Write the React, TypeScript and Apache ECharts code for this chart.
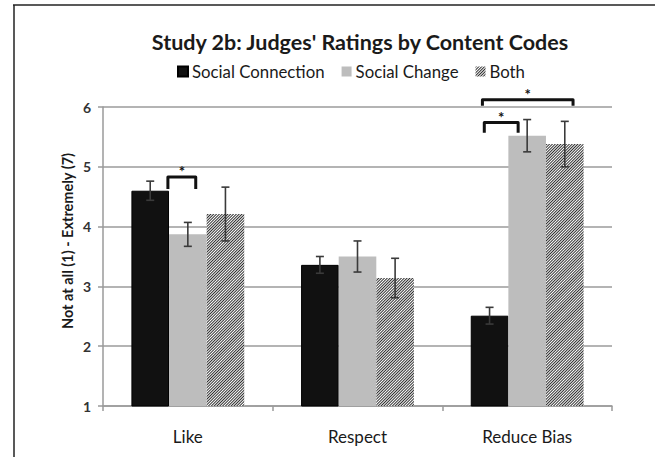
import React, { useEffect, useRef } from "react";
import * as echarts from "echarts";

const categories = ["Like", "Respect", "Reduce Bias"];
const seriesNames = ["Social Connection", "Social Change", "Both"];
const socialConnection = [4.6, 3.36, 2.51];
const socialChange = [3.87, 3.5, 5.52];
const both = [4.21, 3.14, 5.38];
const errConnection = [0.16, 0.14, 0.14];
const errChange = [0.2, 0.26, 0.27];
const errBoth = [0.45, 0.33, 0.38];
const yTicks = [1, 2, 3, 4, 5, 6];
const yAxisTitle = "Not at all (1) - Extremely (7)";

// significance brackets: category, start/end offsets (in bar widths from category centre), top, leg end, star
const bracketCategory = [0, 2, 2];
const bracketFrom = [-0.53, -1.14, -1.19];
const bracketTo = [0.21, -0.24, 1.22];
const bracketTop = [4.83, 5.74, 6.12];
const bracketLeg = [4.63, 5.57, 6.02];
const bracketLabel = ["*", "*", "*"];

const CAT_GAP = 0.335;

export default function App() {
  const ref = useRef<HTMLDivElement>(null);
  useEffect(() => {
    if (!ref.current) return;
    const chart = echarts.init(ref.current, undefined, { renderer: "svg" });
    const values = [socialConnection, socialChange, both];
    const errs = [errConnection, errChange, errBoth];
    const errData: number[][] = [];
    values.forEach((arr, s) =>
      arr.forEach((v, ci) => errData.push([ci, s, v, errs[s][ci]]))
    );
    const bracketData = bracketCategory.map((c, i) => [
      c,
      bracketFrom[i],
      bracketTo[i],
      bracketTop[i],
      bracketLeg[i],
    ]);
    const font = "Lato, 'Open Sans', sans-serif";
    const colors = ["#111111", "#bdbdbd", "#ffffff"];

    chart.setOption({
      animation: false,
      textStyle: { fontFamily: font },
      title: {
        text: "Study 2b: Judges' Ratings by Content Codes",
        left: 355,
        textAlign: "center",
        top: 26,
        textStyle: { fontSize: 21.5, fontWeight: "bold", color: "#1a1a1a", fontFamily: font },
      },
      legend: {
        data: seriesNames,
        top: 58,
        left: 172,
        itemWidth: 10,
        itemHeight: 10,
        itemGap: 17,
        icon: "rect",
        textStyle: { fontSize: 16.8, color: "#1a1a1a", fontFamily: font, padding: [0, 0, 0, -1] },
      },
      grid: { left: 103, right: 43, top: 107, bottom: 51 },
      xAxis: {
        type: "category",
        data: categories,
        axisLine: { lineStyle: { color: "#9a9a9a", width: 1.5 } },
        axisTick: { show: true, length: 5, lineStyle: { color: "#9a9a9a", width: 1.5 } },
        axisLabel: { fontSize: 17, color: "#1a1a1a", margin: 22, fontFamily: font },
      },
      yAxis: {
        type: "value",
        min: yTicks[0],
        max: yTicks[yTicks.length - 1],
        interval: 1,
        axisLine: { show: true, lineStyle: { color: "#9a9a9a", width: 1.5 } },
        axisTick: { show: true, length: 5, lineStyle: { color: "#9a9a9a", width: 1.5 } },
        axisLabel: { fontSize: 14, fontWeight: "bold", color: "#333", margin: 12, fontFamily: font },
        splitLine: { lineStyle: { color: "#b4b4b4", width: 2 } },
      },
      series: [
        ...seriesNames.map((name, s) => ({
          name,
          type: "bar",
          data: values[s],
          barGap: "0%",
          barCategoryGap: CAT_GAP * 100 + "%",
          itemStyle:
            s === 2
              ? {
                  color: colors[s],
                  decal: {
                    symbol: "rect",
                    symbolSize: 1,
                    color: "#2e2e2e",
                    dashArrayX: [1, 0],
                    dashArrayY: [1, 1],
                    rotation: -Math.PI / 4,
                  },
                }
              : s === 0
              ? { color: colors[s], borderColor: "#000", borderWidth: 1 }
              : { color: colors[s] },
        })),
        {
          type: "custom",
          name: "errors",
          data: errData,
          encode: { x: 0, y: 2 },
          clip: false,
          z: 10,
          renderItem: (params: any, api: any) => {
            const ci = api.value(0);
            const s = api.value(1);
            const mean = api.value(2);
            const err = api.value(3);
            const band = api.size([1, 0])[0];
            const barW = (band * (1 - CAT_GAP)) / 3;
            const c = api.coord([ci, mean]);
            const x = c[0] + (s - 1) * barW;
            const yT = api.coord([ci, mean + err])[1];
            const yB = api.coord([ci, mean - err])[1];
            const cap = 4;
            const st = { stroke: "#3a3a3a", lineWidth: 1.6 };
            return {
              type: "group",
              children: [
                { type: "line", shape: { x1: x, y1: yT, x2: x, y2: yB }, style: st },
                { type: "line", shape: { x1: x - cap, y1: yT, x2: x + cap, y2: yT }, style: st },
                { type: "line", shape: { x1: x - cap, y1: yB, x2: x + cap, y2: yB }, style: st },
              ],
            };
          },
        },
        {
          type: "custom",
          name: "brackets",
          data: bracketData,
          encode: { x: 0, y: 3 },
          clip: false,
          z: 11,
          renderItem: (params: any, api: any) => {
            const ci = api.value(0);
            const f = api.value(1);
            const t = api.value(2);
            const top = api.value(3);
            const leg = api.value(4);
            const band = api.size([1, 0])[0];
            const barW = (band * (1 - CAT_GAP)) / 3;
            const c = api.coord([ci, top]);
            const yL = api.coord([ci, leg])[1];
            const x1 = c[0] + f * barW;
            const x2 = c[0] + t * barW;
            return {
              type: "group",
              children: [
                {
                  type: "polyline",
                  shape: { points: [[x1, yL], [x1, c[1]], [x2, c[1]], [x2, yL]] },
                  style: { stroke: "#111", lineWidth: 3, fill: null, lineJoin: "round", lineCap: "butt" },
                },
                {
                  type: "text",
                  x: (x1 + x2) / 2,
                  y: c[1] + 1,
                  style: {
                    text: bracketLabel[params.dataIndex],
                    fontSize: 15,
                    fontWeight: "bold",
                    fill: "#111",
                    align: "center",
                    verticalAlign: "bottom",
                    lineHeight: 14,
                    fontFamily: font,
                  },
                },
              ],
            };
          },
        },
      ],
      graphic: [
        { type: "line", shape: { x1: 13, y1: 5, x2: 655, y2: 5 }, style: { stroke: "#222", lineWidth: 1.5 } },
        { type: "line", shape: { x1: 14, y1: 5, x2: 14, y2: 457 }, style: { stroke: "#222", lineWidth: 1.5 } },
        {
          type: "text",
          x: 67,
          y: 241,
          rotation: Math.PI / 2,
          style: {
            text: yAxisTitle,
            fontSize: 14.5,
            fontWeight: "bold",
            fill: "#1a1a1a",
            align: "center",
            verticalAlign: "middle",
            fontFamily: font,
          },
        },
      ],
    });
    return () => chart.dispose();
  }, []);
  return <div ref={ref} style={{ width: 655, height: 457, position: "absolute", left: 0, top: 0 }} />;
}
